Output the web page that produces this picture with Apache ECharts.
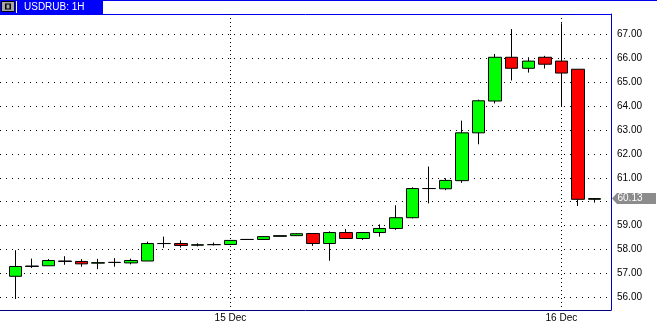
<!DOCTYPE html>
<html><head><meta charset="utf-8">
<script src="https://cdn.jsdelivr.net/npm/echarts@6/dist/echarts.min.js"></script>
<style>html,body{margin:0;padding:0;background:#fff}#c{width:657px;height:323px}</style>
</head><body><div id="c"></div>
<script>
const title = 'USDRUB: 1H';
const opens  = [56.88,57.29,57.32,57.52,57.50,57.43,57.46,57.44,57.52,58.25,58.25,58.18,58.20,58.21,58.42,58.42,58.55,58.58,58.67,58.25,58.71,58.46,58.71,58.88,59.33,60.55,60.54,60.88,62.88,64.21,66.04,65.58,66.04,65.88,65.54,60.10];
const closes = [57.29,57.31,57.54,57.50,57.40,57.45,57.46,57.54,58.25,58.25,58.17,58.20,58.21,58.38,58.42,58.54,58.58,58.66,58.25,58.71,58.46,58.71,58.88,59.33,60.55,60.55,60.89,62.88,64.22,66.04,65.58,65.88,65.75,65.38,60.10,60.13];
const lows   = [55.93,57.23,57.32,57.36,57.28,57.18,57.28,57.38,57.52,58.07,58.08,58.13,58.17,58.21,58.40,58.42,58.55,58.58,58.15,57.53,58.46,58.40,58.54,58.82,59.30,59.93,60.48,60.79,62.40,64.11,65.07,65.40,65.57,63.96,59.82,59.96];
const highs  = [57.97,57.62,57.60,57.72,57.60,57.61,57.64,57.62,58.33,58.54,58.38,58.26,58.29,58.38,58.44,58.54,58.60,58.68,58.67,58.76,58.86,58.71,59.05,59.85,60.60,61.47,60.98,63.39,64.27,66.18,67.22,66.04,66.10,67.46,65.54,60.15];
const yTicks = [56,57,58,59,60,61,62,63,64,65,66,67];
const dayTickIdx = [13, 33];
const dayLabels = ['15 Dec', '16 Dec'];

const data = opens.map((o, i) => [i, o, closes[i], lows[i], highs[i]]);
const lastIdx = closes.length - 1;
const lastClose = closes[lastIdx];
const FONT = '"Liberation Sans", Arial, sans-serif';

const chart = echarts.init(document.getElementById('c'), null, {renderer: 'canvas'});
chart.setOption({
  animation: false,
  backgroundColor: '#fff',
  grid: {left: 0, right: 46, top: 14, bottom: 12},
  xAxis: {
    type: 'value', min: -0.925, max: 36,
    axisLine: {show: true, onZero: false, lineStyle: {color: '#000080', width: 1}},
    axisTick: {show: false, customValues: dayTickIdx},
    axisLabel: {customValues: dayTickIdx, color: '#000', fontFamily: FONT, fontSize: 10, margin: 3,
      formatter: v => dayLabels[dayTickIdx.indexOf(Math.round(v))] || ''},
    splitLine: {show: true, lineStyle: {color: '#000', type: [1, 3], width: 1}}
  },
  yAxis: {
    type: 'value', position: 'right', min: 55.47, max: 67.85, scale: true,
    axisLine: {show: true, onZero: false, lineStyle: {color: '#0000cc', width: 1}},
    axisTick: {show: false, customValues: yTicks},
    axisLabel: {customValues: yTicks, color: '#000', fontFamily: FONT, fontSize: 10, margin: 6,
      formatter: v => v.toFixed(2)},
    splitLine: {show: true, lineStyle: {color: '#000', type: [1, 5], width: 1}}
  },
  graphic: [
    {type: 'line', shape: {x1: 0, y1: 14.5, x2: 611, y2: 14.5}, style: {stroke: '#0000ee', lineWidth: 1}},
    {type: 'line', shape: {x1: 103, y1: 0.5, x2: 657, y2: 0.5}, style: {stroke: '#0000ee', lineWidth: 1}},
    {type: 'rect', shape: {x: 0, y: 0, width: 103, height: 14}, style: {fill: '#0000ff'}},
    {type: 'rect', shape: {x: 1.5, y: 1.5, width: 13, height: 10}, style: {fill: '#a8a8a8', stroke: '#000', lineWidth: 1}},
    {type: 'rect', shape: {x: 5, y: 3.5, width: 6, height: 6}, style: {fill: '#000'}},
    {type: 'rect', shape: {x: 6.5, y: 4.5, width: 3, height: 4}, style: {fill: '#a8a8a8'}},
    {type: 'line', shape: {x1: 16.5, y1: 1, x2: 16.5, y2: 13}, style: {stroke: '#fff', lineWidth: 1}},
    {type: 'text', x: 24, y: 7, style: {text: title, fill: '#fff', font: '10px ' + FONT, textVerticalAlign: 'middle'}}
  ],
  series: [{
    type: 'candlestick',
    data: data,
    encode: {x: 0, y: [1, 2, 3, 4]},
    barWidth: 13,
    itemStyle: {color: '#00ff00', color0: '#ff0000', borderColor: '#000', borderColor0: '#000', borderColorDoji: '#000', borderWidth: 1},
    markPoint: {
      symbol: 'path://M0,5L5,0L44,0L44,10L5,10Z',
      symbolSize: [44, 11],
      symbolOffset: [23, 0],
      symbolKeepAspect: false,
      itemStyle: {color: '#8c8c8c'},
      label: {show: true, color: '#fff', fontFamily: FONT, fontSize: 10, offset: [-4, 0], formatter: () => lastClose.toFixed(2)},
      data: [{coord: [36, lastClose]}]
    }
  }]
});
</script></body></html>
